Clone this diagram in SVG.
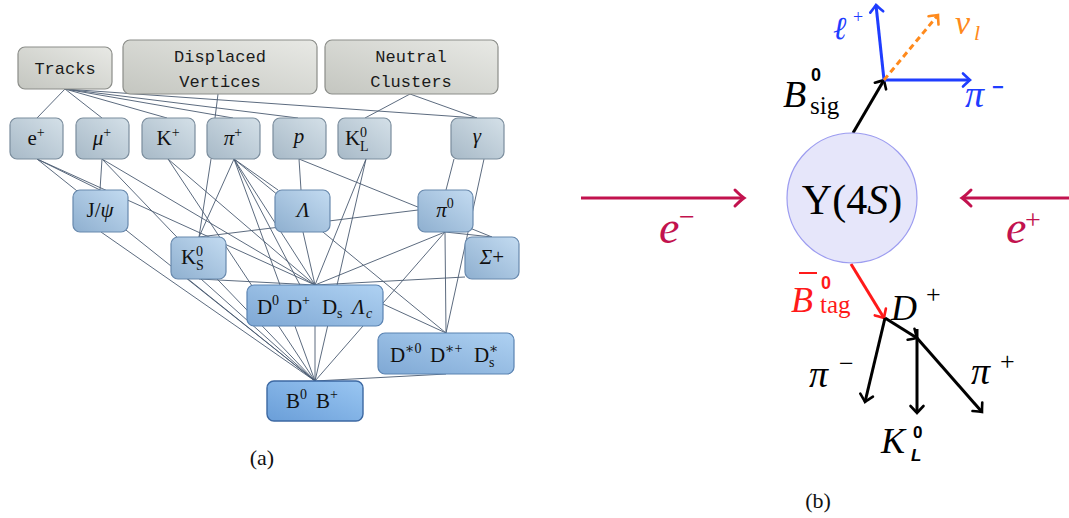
<svg xmlns="http://www.w3.org/2000/svg" width="1069" height="518" viewBox="0 0 1069 518">
  <style>
    .mono { font-family: "Liberation Mono", "DejaVu Sans Mono", monospace; font-size: 17px; fill: #1a1a1a; }
    .lbl { font-family: "Liberation Serif", "DejaVu Serif", serif; font-size: 21px; fill: #111; }
    .sm { font-size: 14px; }
    .it { font-style: italic; }
    .edge { stroke: #4a5a70; stroke-width: 0.9; fill: none; }
    .bx-gray { fill: url(#gGray); stroke: #8b8d89; stroke-width: 1.2; }
    .bx-part { fill: url(#gPart); stroke: #7b8d9d; stroke-width: 1.2; }
    .bx-mid { fill: url(#gMid); stroke: #6889ad; stroke-width: 1.2; }
    .bx-d { fill: url(#gD); stroke: #5a83b2; stroke-width: 1.2; }
    .bx-b { fill: url(#gB); stroke: #3c68a2; stroke-width: 1.4; }
    .ser { font-family: "Liberation Serif", "DejaVu Serif", serif; }
    .sansb { font-family: "Liberation Sans", "DejaVu Sans", sans-serif; font-weight: bold; }
  </style>
  <defs>
    <linearGradient id="gGray" x1="0" y1="1" x2="1" y2="0">
      <stop offset="0" stop-color="#c4c6c0"/>
      <stop offset="1" stop-color="#e8e9e5"/>
    </linearGradient>
    <linearGradient id="gPart" x1="0" y1="1" x2="1" y2="0">
      <stop offset="0" stop-color="#a7b9c7"/>
      <stop offset="1" stop-color="#d4e0e8"/>
    </linearGradient>
    <linearGradient id="gMid" x1="0" y1="1" x2="1" y2="0">
      <stop offset="0" stop-color="#8eafcf"/>
      <stop offset="1" stop-color="#c3dbf1"/>
    </linearGradient>
    <linearGradient id="gD" x1="0" y1="1" x2="1" y2="0">
      <stop offset="0" stop-color="#7fa8d4"/>
      <stop offset="1" stop-color="#aed1f2"/>
    </linearGradient>
    <linearGradient id="gB" x1="0" y1="1" x2="1" y2="0">
      <stop offset="0" stop-color="#6a9ed8"/>
      <stop offset="1" stop-color="#99c6f2"/>
    </linearGradient>
    <marker id="mCrim" markerUnits="userSpaceOnUse" orient="auto" overflow="visible" refX="0" refY="0" markerWidth="20" markerHeight="20">
      <path d="M-9,-8 Q-3,-2 0,0 Q-3,2 -9,8" fill="none" stroke="#c2124e" stroke-width="3" stroke-linecap="round"/>
    </marker>
    <marker id="mBlk" markerUnits="userSpaceOnUse" orient="auto" overflow="visible" refX="0" refY="0" markerWidth="20" markerHeight="20">
      <path d="M-7,-6.5 Q-2,-1.7 0,0 Q-2,1.7 -7,6.5" fill="none" stroke="#000" stroke-width="2.6" stroke-linecap="round"/>
    </marker>
    <marker id="mBlue" markerUnits="userSpaceOnUse" orient="auto" overflow="visible" refX="0" refY="0" markerWidth="20" markerHeight="20">
      <path d="M-7,-6.5 Q-2,-1.7 0,0 Q-2,1.7 -7,6.5" fill="none" stroke="#1f3dff" stroke-width="2.6" stroke-linecap="round"/>
    </marker>
    <marker id="mOrng" markerUnits="userSpaceOnUse" orient="auto" overflow="visible" refX="0" refY="0" markerWidth="20" markerHeight="20">
      <path d="M-7,-6.5 Q-2,-1.7 0,0 Q-2,1.7 -7,6.5" fill="none" stroke="#ff8a1c" stroke-width="2.6" stroke-linecap="round"/>
    </marker>
    <marker id="mRed" markerUnits="userSpaceOnUse" orient="auto" overflow="visible" refX="0" refY="0" markerWidth="20" markerHeight="20">
      <path d="M-7,-6.5 Q-2,-1.7 0,0 Q-2,1.7 -7,6.5" fill="none" stroke="#ff1a1a" stroke-width="2.6" stroke-linecap="round"/>
    </marker>
  </defs>

  <rect width="1069" height="518" fill="#fff"/>

  <!-- (a) reconstruction hierarchy: connectors first, boxes drawn over them -->
  <g id="connectors-a" class="edge">
    <path d="M65,89 L37,118 M65,89 L102,118 M65,89 L167,118 M65,89 L233,118 M65,89 L298,118 M65,89 L477,118"/>
    <path d="M218,94 L215,118 M410,94 L365,118 M410,94 L477,118"/>
    <path d="M37,159 L100,190 M37,159 L315,285 M37,159 L315,381"/>
    <path d="M102,159 L100,190 M102,159 L315,285 M102,159 L315,381"/>
    <path d="M168,159 L315,285 M168,159 L315,381"/>
    <path d="M211,159 L199,237 M234,159 L199,237 M234,159 L278,190 M234,159 L300,285 M234,159 L315,285 M234,159 L446,333 M234,159 L315,381"/>
    <path d="M299,159 L301,190 M299,159 L492,237"/>
    <path d="M366,159 L315,285 M366,159 L315,381"/>
    <path d="M454,159 L446,190 M484,159 L446,333"/>
    <path d="M101,232 L315,381"/>
    <path d="M303,232 L315,285"/>
    <path d="M445,232 L315,285 M445,232 L315,381 M445,232 L446,333 M445,232 L492,237"/>
    <path d="M199,237 L418,210 M199,279 L315,285 M188,279 L315,381 M201,279 L315,381"/>
    <path d="M465,277 L315,285"/>
    <path d="M315,326 L315,381 M383,304 L446,333"/>
    <path d="M446,374 L315,381"/>
  </g>

  <g id="node-tracks">
    <rect class="bx-gray" x="18" y="47" width="94" height="42" rx="7"/>
    <text class="mono" x="65" y="74" text-anchor="middle">Tracks</text>
  </g>
  <g id="node-displaced">
    <rect class="bx-gray" x="123" y="40" width="194" height="54" rx="7"/>
    <text class="mono" x="220" y="62" text-anchor="middle">Displaced</text>
    <text class="mono" x="220" y="87" text-anchor="middle">Vertices</text>
  </g>
  <g id="node-neutral">
    <rect class="bx-gray" x="325" y="40" width="173" height="54" rx="7"/>
    <text class="mono" x="411" y="62" text-anchor="middle">Neutral</text>
    <text class="mono" x="411" y="87" text-anchor="middle">Clusters</text>
  </g>

  <g id="node-e">
    <rect class="bx-part" x="10" y="118" width="53" height="41" rx="7"/>
    <text class="lbl" x="36" y="145" text-anchor="middle">e<tspan class="sm" dy="-8">+</tspan></text>
  </g>
  <g id="node-mu">
    <rect class="bx-part" x="76" y="118" width="53" height="41" rx="7"/>
    <text class="lbl" x="102" y="145" text-anchor="middle"><tspan class="it">μ</tspan><tspan class="sm" dy="-8">+</tspan></text>
  </g>
  <g id="node-k">
    <rect class="bx-part" x="142" y="118" width="53" height="41" rx="7"/>
    <text class="lbl" x="168" y="145" text-anchor="middle">K<tspan class="sm" dy="-8">+</tspan></text>
  </g>
  <g id="node-pi">
    <rect class="bx-part" x="207" y="118" width="53" height="41" rx="7"/>
    <text class="lbl" x="233" y="145" text-anchor="middle"><tspan class="it">π</tspan><tspan class="sm" dy="-8">+</tspan></text>
  </g>
  <g id="node-p">
    <rect class="bx-part" x="273" y="118" width="53" height="41" rx="7"/>
    <text class="lbl it" x="299" y="143" text-anchor="middle">p</text>
  </g>
  <g id="node-kl">
    <rect class="bx-part" x="338" y="118" width="53" height="41" rx="7"/>
    <text class="lbl" x="345" y="145">K</text>
    <text class="lbl sm" x="360" y="137">0</text>
    <text class="lbl sm" x="360" y="151">L</text>
  </g>
  <g id="node-gamma">
    <rect class="bx-part" x="451" y="118" width="53" height="41" rx="7"/>
    <text class="lbl it" x="477" y="143" text-anchor="middle">γ</text>
  </g>

  <g id="node-jpsi">
    <rect class="bx-mid" x="73" y="190" width="55" height="42" rx="7"/>
    <text class="lbl" x="100" y="217" text-anchor="middle">J/<tspan class="it">ψ</tspan></text>
  </g>
  <g id="node-lambda">
    <rect class="bx-mid" x="275" y="190" width="55" height="42" rx="7"/>
    <text class="lbl it" x="303" y="217" text-anchor="middle">Λ</text>
  </g>
  <g id="node-pi0">
    <rect class="bx-mid" x="418" y="190" width="55" height="42" rx="7"/>
    <text class="lbl" x="445" y="217" text-anchor="middle"><tspan class="it">π</tspan><tspan class="sm" dy="-9">0</tspan></text>
  </g>
  <g id="node-ks">
    <rect class="bx-mid" x="171" y="237" width="55" height="42" rx="7"/>
    <text class="lbl" x="181" y="264">K</text>
    <text class="lbl sm" x="196" y="256">0</text>
    <text class="lbl sm" x="196" y="270">S</text>
  </g>
  <g id="node-sigma">
    <rect class="bx-mid" x="465" y="237" width="54" height="42" rx="7"/>
    <text class="lbl" x="492" y="264" text-anchor="middle"><tspan class="it">Σ</tspan>+</text>
  </g>

  <g id="node-charm">
    <rect class="bx-d" x="247" y="285" width="136" height="41" rx="7"/>
    <text class="lbl" x="257" y="314">D</text>
    <text class="lbl sm" x="272" y="305">0</text>
    <text class="lbl" x="287" y="314">D</text>
    <text class="lbl sm" x="302" y="305">+</text>
    <text class="lbl" x="322" y="314">D</text>
    <text class="lbl sm" x="337" y="318">s</text>
    <text class="lbl it" x="352" y="314">Λ</text>
    <text class="lbl sm it" x="366" y="318">c</text>
  </g>
  <g id="node-charm-star">
    <rect class="bx-d" x="378" y="333" width="136" height="41" rx="7"/>
    <text class="lbl" x="390" y="362">D</text>
    <text class="lbl sm" x="405" y="353">∗0</text>
    <text class="lbl" x="430" y="362">D</text>
    <text class="lbl sm" x="445" y="353">∗+</text>
    <text class="lbl" x="474" y="362">D</text>
    <text class="lbl sm" x="489" y="353">∗</text>
    <text class="lbl sm" x="489" y="367">s</text>
  </g>
  <g id="node-bmeson">
    <rect class="bx-b" x="267" y="381" width="96" height="40" rx="7"/>
    <text class="lbl" x="286" y="408">B</text>
    <text class="lbl sm" x="300" y="399">0</text>
    <text class="lbl" x="316" y="408">B</text>
    <text class="lbl sm" x="330" y="399">+</text>
  </g>

  <text class="ser" x="262" y="465" font-size="22" text-anchor="middle" fill="#111">(a)</text>

  <!-- (b) Υ(4S) production and decay -->
  <g id="connectors-b" fill="none" stroke-width="3">
    <path d="M581,198 L744,198" stroke="#c2124e" marker-end="url(#mCrim)"/>
    <path d="M1069,198 L962,198" stroke="#c2124e" marker-end="url(#mCrim)"/>
    <path d="M853,133 L884,80" stroke="#000" marker-end="url(#mBlk)"/>
    <path d="M884,80 L876,5" stroke="#1f3dff" marker-end="url(#mBlue)"/>
    <path d="M884,80 L970,80" stroke="#1f3dff" marker-end="url(#mBlue)"/>
    <path d="M884,80 L938,15" stroke="#ff8a1c" stroke-dasharray="6 4" marker-end="url(#mOrng)"/>
    <path d="M851,264 L884,318" stroke="#ff1a1a" marker-end="url(#mRed)"/>
    <path d="M885,318 L865,402" stroke="#000" marker-end="url(#mBlk)"/>
    <path d="M885,318 L917,338" stroke="#000" marker-end="url(#mBlk)"/>
    <path d="M917,338 L982,412" stroke="#000" marker-end="url(#mBlk)"/>
    <path d="M917,329 L917,413" stroke="#000" marker-end="url(#mBlk)"/>
  </g>

  <g id="node-upsilon">
    <circle cx="852" cy="198" r="65" fill="#e6e6fa" stroke="#9c9cf0" stroke-width="1.2"/>
    <text class="ser" x="852" y="214" font-size="42" text-anchor="middle" fill="#000">Υ(4<tspan font-style="italic">S</tspan>)</text>
  </g>

  <g id="label-electron" fill="#c2124e">
    <text class="ser it" x="659" y="243" font-size="46">e</text>
    <text class="ser" x="679" y="226" font-size="28">−</text>
  </g>
  <g id="label-positron" fill="#c2124e">
    <text class="ser it" x="1006" y="243" font-size="46">e</text>
    <text class="ser" x="1025" y="229" font-size="28">+</text>
  </g>

  <g id="label-bsig" fill="#000">
    <text class="ser it" x="783" y="107" font-size="38">B</text>
    <text class="sansb" x="811" y="81" font-size="18">0</text>
    <text class="ser" x="810" y="114" font-size="25">sig</text>
  </g>
  <g id="label-lepton" fill="#1f3dff">
    <text class="ser it" x="833" y="39" font-size="32">ℓ</text>
    <text class="ser" x="853" y="23" font-size="18">+</text>
  </g>
  <g id="label-neutrino" fill="#ff8a1c">
    <text class="ser it" x="955" y="34" font-size="34">ν</text>
    <text class="ser it" x="974" y="40" font-size="22">l</text>
  </g>
  <g id="label-pi-sig" fill="#1f3dff">
    <text class="ser it" x="965" y="107" font-size="38">π</text>
    <text class="sansb" x="992" y="94" font-size="20">−</text>
  </g>

  <g id="label-btag" fill="#ff1a1a">
    <text class="ser it" x="791" y="312" font-size="36">B</text>
    <path d="M799,273 L817,273" stroke="#ff1a1a" stroke-width="2"/>
    <text class="sansb" x="821" y="289" font-size="18">0</text>
    <text class="ser" x="820" y="313" font-size="25">tag</text>
  </g>
  <g id="label-dplus" fill="#000">
    <text class="ser it" x="891" y="320" font-size="36">D</text>
    <text class="ser" x="926" y="303" font-size="26">+</text>
  </g>
  <g id="label-pi-minus" fill="#000">
    <text class="ser it" x="809" y="387" font-size="38">π</text>
    <text class="ser" x="839" y="372" font-size="26">−</text>
  </g>
  <g id="label-pi-plus" fill="#000">
    <text class="ser it" x="971" y="384" font-size="38">π</text>
    <text class="ser" x="1000" y="370" font-size="26">+</text>
  </g>
  <g id="label-klong" fill="#000">
    <text class="ser it" x="881" y="453" font-size="36">K</text>
    <text class="sansb" x="913" y="438" font-size="17">0</text>
    <text class="sansb" x="911" y="461" font-size="17" font-style="italic">L</text>
  </g>

  <text class="ser" x="818" y="508" font-size="22" text-anchor="middle" fill="#111">(b)</text>
</svg>
